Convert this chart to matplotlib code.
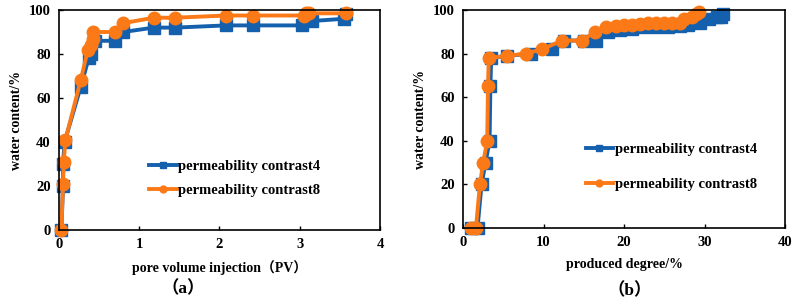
import matplotlib
matplotlib.use("Agg")
import matplotlib.pyplot as plt

# ---- data ----
# (a) water content vs pore volume injection
pv_c4 = [0.03, 0.05, 0.05, 0.07, 0.27, 0.37, 0.40, 0.45, 0.70, 0.80, 1.18, 1.45,
         2.08, 2.42, 3.03, 3.15, 3.55, 3.58]
wc_pv_c4 = [0, 20, 30, 40, 65, 78, 80, 86, 86, 90, 92, 92, 93, 93, 93, 95, 96, 98]
pv_c8 = [0.03, 0.05, 0.06, 0.08, 0.27, 0.36, 0.40, 0.42, 0.43, 0.70, 0.80, 1.18,
         1.45, 2.08, 2.42, 3.05, 3.08, 3.12, 3.58]
wc_pv_c8 = [0, 21, 31, 41, 68, 82, 84, 87, 90, 90, 94, 96.5, 96.5, 97.5, 97.5,
            97.5, 98.5, 98.5, 98.5]

# (b) water content vs produced degree
pd_c4 = [1.0, 1.8, 2.3, 2.8, 3.3, 3.4, 3.5, 5.5, 8.5, 11.0, 12.5, 15.0, 16.5,
         18.0, 19.5, 21.0, 22.5, 24.0, 25.5, 27.0, 28.0, 29.5, 30.5, 31.5, 32.0, 32.3]
wc_pd_c4 = [0, 0, 20, 30, 40, 65, 78, 79, 80, 82, 86, 86, 86,
            90, 91, 91.5, 92, 92, 92, 92.5, 93, 94, 96, 97, 97, 98]
pd_c8 = [1.0, 1.6, 2.1, 2.5, 3.0, 3.1, 3.2, 5.5, 7.8, 9.8, 12.3, 14.8, 16.4,
         17.8, 19.0, 20.0, 21.0, 22.0, 23.0, 24.0, 25.0, 26.0, 27.0, 27.5, 28.5,
         29.0, 29.3]
wc_pd_c8 = [0, 0, 20, 30, 40, 65, 78, 79, 80, 82, 86, 86, 90,
            92, 92.5, 93, 93, 93.5, 94, 94, 94, 94, 94, 96, 97, 98, 99]

labels = ["permeability contrast4", "permeability contrast8"]
BLUE = "#1560ad"
ORANGE = "#fb7a17"

plt.rcParams["font.family"] = ["Liberation Serif", "Noto Sans CJK SC", "DejaVu Sans"]
plt.rcParams["font.weight"] = "bold"
plt.rcParams["font.size"] = 10

fig = plt.figure(figsize=(7.96, 3.07), dpi=100)
ax_a = fig.add_axes([0.0741, 0.2508, 0.4033, 0.7166])
ax_b = fig.add_axes([0.5817, 0.2573, 0.4045, 0.7101])


def style_axis(ax, xmax, xstep, xlabel):
    ax.set_xlim(0, xmax)
    ax.set_ylim(0, 100)
    ax.set_xticks(range(0, xmax + 1, xstep))
    ax.set_yticks(range(0, 101, 20))
    ax.tick_params(direction="in", length=3, width=1, labelsize=10.5, pad=6)
    for lab in ax.get_xticklabels() + ax.get_yticklabels():
        lab.set_fontweight("bold")
    for sp in ax.spines.values():
        sp.set_linewidth(1.2)
    ax.set_xlabel(xlabel, fontweight="bold", fontsize=10, labelpad=6)
    ax.set_ylabel("water content/%", fontweight="bold", fontsize=10, labelpad=4)


line_kw = dict(linewidth=2.8, markersize=9, clip_on=False)
ax_a.plot(pv_c4, wc_pv_c4, color=BLUE, marker="s", label=labels[0], **line_kw)
ax_a.plot(pv_c8, wc_pv_c8, color=ORANGE, marker="o", label=labels[1], **line_kw)
style_axis(ax_a, 4, 1, "pore volume injection（PV）")
ax_a.legend(loc="upper left", bbox_to_anchor=(0.24, 0.38), frameon=False,
            handlelength=1.9, handletextpad=0.1, markerscale=0.55,
            labelspacing=0.75, prop={"weight": "bold", "size": 10.5})

ax_b.plot(pd_c4, wc_pd_c4, color=BLUE, marker="s", label=labels[0], **line_kw)
ax_b.plot(pd_c8, wc_pd_c8, color=ORANGE, marker="o", label=labels[1], **line_kw)
style_axis(ax_b, 40, 10, "produced degree/%")
ax_b.legend(loc="upper left", bbox_to_anchor=(0.34, 0.45), frameon=False,
            handlelength=1.9, handletextpad=0.1, markerscale=0.55,
            labelspacing=1.5, prop={"weight": "bold", "size": 10.5})

fig.text(183 / 796, 1 - 289 / 307, "（a）", ha="center", va="center",
         fontsize=12.5, fontweight="bold")
fig.text(630 / 796, 1 - 291 / 307, "（b）", ha="center", va="center",
         fontsize=12.5, fontweight="bold")

fig.savefig("out.png", dpi=100)
